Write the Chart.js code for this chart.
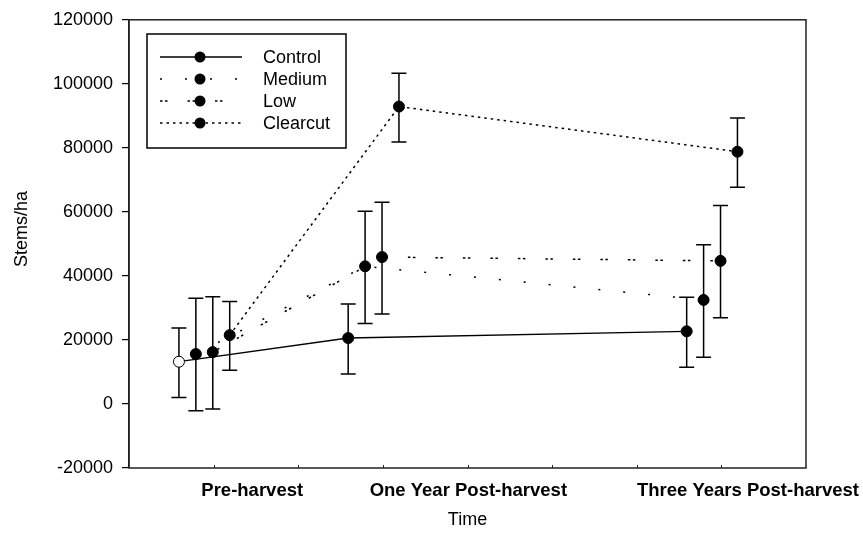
<!DOCTYPE html>
<html>
<head>
<meta charset="utf-8">
<script src="https://cdn.jsdelivr.net/npm/chart.js@4.4.1/dist/chart.umd.min.js"></script>
<style>
  html, body { margin: 0; padding: 0; background: #fff; }
</style>
</head>
<body>
<canvas id="myChart" width="863" height="544"></canvas>
<script>
// Data
const timeLabels = ['Pre-harvest', 'One Year Post-harvest', 'Three Years Post-harvest'];
const timePos = [1, 3, 7];
const labelPos = [1.456, 4.01, 7.314];
const seriesNames = ['Control', 'Medium', 'Low', 'Clearcut'];
const seriesOffset = [-0.41, -0.21, -0.01, 0.19];

const controlMean = [13200, 20600, 22700];
const controlUpper = [23700, 31200, 33300];
const controlLower = [2000, 9400, 11500];

const mediumMean = [15600, 43000, 32500];
const mediumUpper = [33000, 60200, 49700];
const mediumLower = [-2100, 25100, 14600];

const lowMean = [16200, 45900, 44700];
const lowUpper = [33500, 63000, 62000];
const lowLower = [-1600, 28100, 26900];

const clearcutMean = [21500, 92900, 78800];
const clearcutUpper = [32000, 103300, 89300];
const clearcutLower = [10500, 81800, 67700];

const yTicks = [-20000, 0, 20000, 40000, 60000, 80000, 100000, 120000];

const means = [controlMean, mediumMean, lowMean, clearcutMean];
const uppers = [controlUpper, mediumUpper, lowUpper, clearcutUpper];
const lowers = [controlLower, mediumLower, lowLower, clearcutLower];
const dashes = [[], [2, 23], [2.5, 2.5, 2.5, 20], [2.5, 4]];
const lineWidths = [1.3, 1.5, 1.5, 1.5];

const FONT = '"Liberation Sans", Arial, sans-serif';

function pts(k) {
    return means[k].map((v, i) => ({ x: timePos[i] + seriesOffset[k], y: v }));
}

const datasets = seriesNames.map((name, k) => ({
    label: name,
    data: pts(k),
    borderColor: '#000',
    borderWidth: lineWidths[k],
    borderDash: dashes[k],
    pointRadius: 5.5,
    pointBorderWidth: 1,
    pointBorderColor: '#000',
    pointBackgroundColor: k === 0 ? ['#fff', '#000', '#000'] : '#000',
    fill: false,
    tension: 0,
}));

// error bars, frame, inner x ticks and the boxed legend
const extras = {
    id: 'extras',
    beforeDatasetsDraw(chart) {
        const { ctx, scales: { x, y } } = chart;
        ctx.save();
        ctx.strokeStyle = '#000';
        ctx.lineWidth = 1.5;
        ctx.setLineDash([]);
        seriesNames.forEach((n, k) => {
            means[k].forEach((m, i) => {
                const px = x.getPixelForValue(timePos[i] + seriesOffset[k]);
                const yt = y.getPixelForValue(uppers[k][i]);
                const yb = y.getPixelForValue(lowers[k][i]);
                ctx.beginPath();
                ctx.moveTo(px, yt); ctx.lineTo(px, yb);
                ctx.moveTo(px - 7.5, yt); ctx.lineTo(px + 7.5, yt);
                ctx.moveTo(px - 7.5, yb); ctx.lineTo(px + 7.5, yb);
                ctx.stroke();
            });
        });
        ctx.restore();
    },
    afterDraw(chart) {
        const { ctx, chartArea: a, scales: { x } } = chart;
        ctx.save();
        ctx.setLineDash([]);
        ctx.strokeStyle = '#222';
        ctx.lineWidth = 1.5;
        ctx.strokeRect(a.left, a.top, a.right - a.left, a.bottom - a.top);
        ctx.lineWidth = 1;
        for (let v = 1; v < 8; v++) {
            const px = Math.round(x.getPixelForValue(v)) + 0.5;
            ctx.beginPath();
            ctx.moveTo(px, a.bottom);
            ctx.lineTo(px, a.bottom - 3);
            ctx.stroke();
        }
        // legend
        ctx.fillStyle = '#fff';
        ctx.fillRect(147, 34, 199, 114);
        ctx.strokeStyle = '#000';
        ctx.lineWidth = 1.5;
        ctx.strokeRect(147, 34, 199, 114);
        ctx.font = '18px ' + FONT;
        ctx.textBaseline = 'middle';
        ctx.textAlign = 'left';
        seriesNames.forEach((n, k) => {
            const ry = 57 + k * 22;
            ctx.strokeStyle = '#000';
            ctx.lineWidth = lineWidths[k];
            ctx.setLineDash(dashes[k]);
            ctx.beginPath();
            ctx.moveTo(160, ry); ctx.lineTo(242, ry);
            ctx.stroke();
            ctx.setLineDash([]);
            ctx.fillStyle = '#000';
            ctx.beginPath();
            ctx.arc(200, ry, 5.5, 0, Math.PI * 2);
            ctx.fill();
            ctx.fillText(n, 263, ry + 1);
        });
        ctx.restore();
    }
};

const ctx = document.getElementById('myChart').getContext('2d');
const myChart = new Chart(ctx, {
    type: 'line',
    data: { datasets: datasets },
    plugins: [extras],
    options: {
        responsive: false,
        animation: false,
        layout: { padding: { left: 0, right: 57, top: 16, bottom: 0 } },
        plugins: {
            legend: { display: false },
            tooltip: { enabled: false },
        },
        scales: {
            x: {
                type: 'linear',
                position: 'bottom',
                min: 0,
                max: 8,
                afterBuildTicks: ax => { ax.ticks = [0, 1, 2, 3, 4, 5, 6, 7, 8].map(v => ({ value: v })); },
                ticks: { display: false },
                grid: { display: false },
                border: { display: false },
                afterFit: s => { s.height = 0; s.paddingLeft = 0; s.paddingRight = 0; },
            },
            x2: {
                type: 'linear',
                position: 'bottom',
                min: 0,
                max: 8,
                afterBuildTicks: ax => { ax.ticks = labelPos.map(v => ({ value: v })); },
                ticks: {
                    autoSkip: false,
                    maxRotation: 0,
                    padding: 12,
                    color: '#000',
                    font: { family: FONT, size: 18.5, weight: 'bold' },
                    callback: (v, i) => timeLabels[i],
                },
                grid: { display: false, drawTicks: false },
                border: { display: false },
                title: {
                    display: true,
                    text: 'Time',
                    color: '#000',
                    font: { family: FONT, size: 18 },
                    padding: { top: 0, bottom: 13 },
                },
                afterFit: s => { s.height = 76; s.paddingLeft = 0; s.paddingRight = 0; },
            },
            y: {
                type: 'linear',
                min: -20000,
                max: 120000,
                afterBuildTicks: ax => { ax.ticks = yTicks.map(v => ({ value: v })); },
                ticks: {
                    padding: 9,
                    color: '#000',
                    font: { family: FONT, size: 18 },
                    callback: v => String(v),
                },
                grid: { drawOnChartArea: false, tickLength: 7, color: '#000', lineWidth: 1.2 },
                border: { color: '#222', width: 1.5 },
                title: {
                    display: true,
                    text: '\u00a0\u00a0\u00a0\u00a0\u00a0\u00a0Stems/ha',
                    color: '#000',
                    font: { family: FONT, size: 18 },
                    padding: { top: 11, bottom: 0 },
                },
                afterFit: s => { s.width = 129; },
            },
        },
    },
});
</script>
</body>
</html>
